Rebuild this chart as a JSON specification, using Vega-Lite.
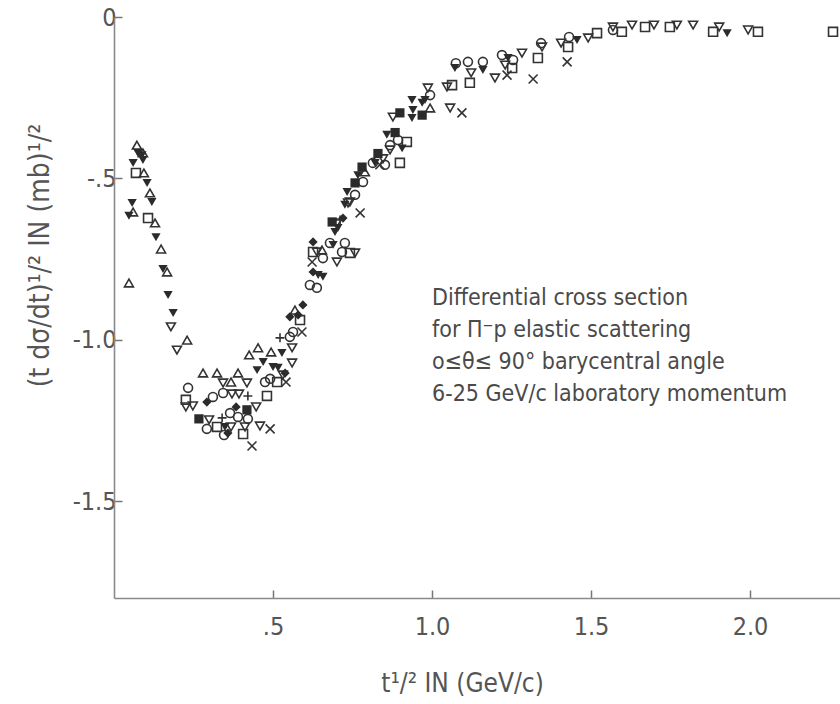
{
  "$schema": "https://vega.github.io/schema/vega-lite/v6.json",
  "autosize": "none",
  "width": 726,
  "height": 581,
  "padding": {"left": 114, "top": 17, "right": 0, "bottom": 106},
  "background": "white",
  "config": {
    "view": {"stroke": null},
    "axis": {
      "grid": false,
      "domainColor": "#8a8a8a",
      "domainWidth": 1.6,
      "tickColor": "#777777",
      "tickWidth": 1.5,
      "tickSize": -8,
      "labelColor": "#555555",
      "labelFont": "DejaVu Sans Condensed, sans-serif",
      "labelFontSize": 25,
      "titleColor": "#555555",
      "titleFont": "DejaVu Sans Condensed, sans-serif",
      "titleFontSize": 26,
      "titleFontWeight": "normal"
    }
  },
  "datasets": {
    "pts": [
      {"x":0.072,"y":-0.397,"s":"tu"},{"x":0.075,"y":-0.421,"s":"ftd"},{"x":0.088,"y":-0.428,"s":"ftd"},{"x":0.060,"y":-0.452,"s":"ftd"},
      {"x":0.091,"y":-0.443,"s":"ftd"},{"x":0.091,"y":-0.421,"s":"tu"},{"x":0.069,"y":-0.483,"s":"sq"},{"x":0.094,"y":-0.483,"s":"tu"},
      {"x":0.104,"y":-0.514,"s":"ftd"},{"x":0.113,"y":-0.545,"s":"tu"},{"x":0.119,"y":-0.573,"s":"ftd"},{"x":0.057,"y":-0.576,"s":"ftd"},
      {"x":0.047,"y":-0.616,"s":"ftd"},{"x":0.060,"y":-0.604,"s":"tu"},{"x":0.107,"y":-0.623,"s":"sq"},{"x":0.129,"y":-0.638,"s":"tu"},
      {"x":0.132,"y":-0.682,"s":"ftd"},{"x":0.148,"y":-0.719,"s":"tu"},{"x":0.154,"y":-0.781,"s":"ftd"},{"x":0.167,"y":-0.790,"s":"tu"},
      {"x":0.047,"y":-0.824,"s":"tu"},{"x":0.170,"y":-0.861,"s":"ftd"},{"x":0.186,"y":-0.917,"s":"ftd"},{"x":0.179,"y":-0.960,"s":"td"},
      {"x":0.230,"y":-1.001,"s":"tu"},{"x":0.198,"y":-1.032,"s":"td"},
      {"x":0.280,"y":-1.103,"s":"tu"},{"x":0.324,"y":-1.103,"s":"tu"},{"x":0.390,"y":-1.103,"s":"tu"},{"x":0.425,"y":-1.047,"s":"tu"},
      {"x":0.453,"y":-1.025,"s":"tu"},{"x":0.494,"y":-1.038,"s":"tu"},{"x":0.469,"y":-1.069,"s":"ftd"},{"x":0.450,"y":-1.094,"s":"ftd"},
      {"x":0.500,"y":-1.084,"s":"ftd"},{"x":0.516,"y":-1.087,"s":"ftd"},{"x":0.528,"y":-1.041,"s":"ftd"},{"x":0.560,"y":-1.025,"s":"td"},
      {"x":0.560,"y":-1.072,"s":"td"},{"x":0.522,"y":-0.994,"s":"p"},{"x":0.553,"y":-0.991,"s":"c"},{"x":0.591,"y":-0.976,"s":"x"},
      {"x":0.343,"y":-1.134,"s":"td"},{"x":0.368,"y":-1.131,"s":"tu"},{"x":0.418,"y":-1.134,"s":"td"},{"x":0.233,"y":-1.149,"s":"c"},
      {"x":0.475,"y":-1.131,"s":"c"},{"x":0.491,"y":-1.121,"s":"c"},{"x":0.513,"y":-1.131,"s":"sq"},{"x":0.541,"y":-1.131,"s":"x"},
      {"x":0.531,"y":-1.109,"s":"td"},{"x":0.343,"y":-1.165,"s":"c"},{"x":0.371,"y":-1.168,"s":"td"},{"x":0.393,"y":-1.168,"s":"td"},
      {"x":0.421,"y":-1.174,"s":"p"},{"x":0.481,"y":-1.174,"s":"sq"},{"x":0.292,"y":-1.193,"s":"fd"},{"x":0.311,"y":-1.177,"s":"c"},
      {"x":0.226,"y":-1.186,"s":"sq"},{"x":0.226,"y":-1.208,"s":"td"},{"x":0.248,"y":-1.205,"s":"td"},{"x":0.384,"y":-1.208,"s":"fd"},
      {"x":0.418,"y":-1.217,"s":"fsq"},{"x":0.365,"y":-1.227,"s":"c"},{"x":0.447,"y":-1.208,"s":"td"},{"x":0.390,"y":-1.239,"s":"c"},
      {"x":0.421,"y":-1.245,"s":"c"},{"x":0.267,"y":-1.245,"s":"fsq"},{"x":0.299,"y":-1.248,"s":"td"},{"x":0.340,"y":-1.242,"s":"p"},
      {"x":0.292,"y":-1.276,"s":"c"},{"x":0.324,"y":-1.270,"s":"sq"},{"x":0.349,"y":-1.270,"s":"ftd"},{"x":0.368,"y":-1.270,"s":"td"},
      {"x":0.412,"y":-1.270,"s":"td"},{"x":0.459,"y":-1.267,"s":"td"},{"x":0.491,"y":-1.276,"s":"x"},{"x":0.346,"y":-1.295,"s":"c"},
      {"x":0.358,"y":-1.289,"s":"fd"},{"x":0.406,"y":-1.292,"s":"sq"},{"x":0.434,"y":-1.329,"s":"x"},
      {"x":0.726,"y":-0.582,"s":"ftd"},{"x":0.736,"y":-0.576,"s":"td"},{"x":0.774,"y":-0.607,"s":"x"},{"x":0.686,"y":-0.635,"s":"fsq"},
      {"x":0.701,"y":-0.638,"s":"td"},{"x":0.711,"y":-0.629,"s":"p"},{"x":0.695,"y":-0.666,"s":"ftd"},{"x":0.704,"y":-0.654,"s":"ftd"},
      {"x":0.626,"y":-0.697,"s":"fd"},{"x":0.679,"y":-0.700,"s":"c"},{"x":0.726,"y":-0.700,"s":"c"},{"x":0.689,"y":-0.706,"s":"ftd"},
      {"x":0.638,"y":-0.728,"s":"td"},{"x":0.654,"y":-0.722,"s":"tu"},{"x":0.626,"y":-0.728,"s":"sq"},{"x":0.657,"y":-0.747,"s":"c"},
      {"x":0.701,"y":-0.759,"s":"td"},{"x":0.742,"y":-0.731,"s":"sq"},{"x":0.758,"y":-0.731,"s":"td"},{"x":0.717,"y":-0.728,"s":"c"},
      {"x":0.623,"y":-0.759,"s":"x"},{"x":0.626,"y":-0.790,"s":"fd"},{"x":0.657,"y":-0.805,"s":"ftd"},{"x":0.642,"y":-0.799,"s":"ftd"},
      {"x":0.616,"y":-0.830,"s":"c"},{"x":0.638,"y":-0.839,"s":"c"},{"x":0.594,"y":-0.892,"s":"fd"},{"x":0.569,"y":-0.908,"s":"tu"},
      {"x":0.553,"y":-0.929,"s":"fd"},{"x":0.579,"y":-0.923,"s":"fd"},{"x":0.585,"y":-0.939,"s":"sq"},{"x":0.563,"y":-0.976,"s":"c"},
      {"x":0.538,"y":-1.103,"s":"fd"},
      {"x":0.720,"y":-0.623,"s":"fd"},{"x":0.742,"y":-0.573,"s":"td"},{"x":0.758,"y":-0.551,"s":"c"},{"x":0.733,"y":-0.542,"s":"ftd"},
      {"x":0.783,"y":-0.511,"s":"c"},{"x":0.758,"y":-0.514,"s":"fsq"},{"x":0.789,"y":-0.480,"s":"tu"},{"x":0.767,"y":-0.490,"s":"ftd"},
      {"x":0.780,"y":-0.465,"s":"fsq"},{"x":0.899,"y":-0.452,"s":"sq"},{"x":0.852,"y":-0.458,"s":"c"},{"x":0.836,"y":-0.458,"s":"x"},
      {"x":0.814,"y":-0.452,"s":"c"},{"x":0.868,"y":-0.412,"s":"td"},{"x":0.846,"y":-0.439,"s":"td"},{"x":0.821,"y":-0.452,"s":"ftd"},
      {"x":0.830,"y":-0.423,"s":"fsq"},{"x":0.906,"y":-0.407,"s":"ftd"},{"x":0.868,"y":-0.397,"s":"c"},{"x":0.921,"y":-0.387,"s":"sq"},
      {"x":0.893,"y":-0.381,"s":"c"},{"x":0.884,"y":-0.358,"s":"fsq"},{"x":0.858,"y":-0.365,"s":"ftd"},{"x":0.937,"y":-0.313,"s":"ftd"},
      {"x":0.899,"y":-0.297,"s":"fsq"},{"x":0.969,"y":-0.266,"s":"ftd"},
      {"x":0.877,"y":-0.310,"s":"td"},{"x":0.937,"y":-0.257,"s":"ftd"},{"x":0.940,"y":-0.288,"s":"ftd"},
      {"x":0.994,"y":-0.282,"s":"tu"},{"x":0.969,"y":-0.304,"s":"fsq"},{"x":0.994,"y":-0.242,"s":"c"},{"x":0.978,"y":-0.257,"s":"ftd"},
      {"x":0.987,"y":-0.220,"s":"td"},{"x":1.057,"y":-0.282,"s":"td"},{"x":1.094,"y":-0.297,"s":"x"},{"x":1.047,"y":-0.217,"s":"td"},
      {"x":1.063,"y":-0.211,"s":"sq"},{"x":1.075,"y":-0.143,"s":"c"},{"x":1.072,"y":-0.158,"s":"ftd"},{"x":1.113,"y":-0.139,"s":"c"},
      {"x":1.123,"y":-0.173,"s":"td"},{"x":1.119,"y":-0.204,"s":"sq"},{"x":1.160,"y":-0.139,"s":"c"},{"x":1.160,"y":-0.164,"s":"ftd"},
      {"x":1.198,"y":-0.189,"s":"td"},{"x":1.236,"y":-0.180,"s":"x"},{"x":1.220,"y":-0.118,"s":"c"},{"x":1.239,"y":-0.127,"s":"ftd"},
      {"x":1.252,"y":-0.158,"s":"sq"},{"x":1.255,"y":-0.133,"s":"c"},{"x":1.230,"y":-0.149,"s":"td"},{"x":1.283,"y":-0.112,"s":"td"},
      {"x":1.333,"y":-0.127,"s":"sq"},{"x":1.318,"y":-0.192,"s":"x"},{"x":1.343,"y":-0.081,"s":"c"},{"x":1.346,"y":-0.093,"s":"td"},
      {"x":1.425,"y":-0.139,"s":"x"},{"x":1.406,"y":-0.081,"s":"td"},{"x":1.428,"y":-0.093,"s":"sq"},{"x":1.431,"y":-0.062,"s":"c"},
      {"x":1.456,"y":-0.071,"s":"ftd"},{"x":1.491,"y":-0.065,"s":"td"},{"x":1.519,"y":-0.050,"s":"sq"},{"x":1.569,"y":-0.031,"s":"td"},
      {"x":1.569,"y":-0.040,"s":"c"},{"x":1.597,"y":-0.046,"s":"sq"},{"x":1.629,"y":-0.025,"s":"td"},{"x":1.670,"y":-0.031,"s":"sq"},
      {"x":1.698,"y":-0.025,"s":"td"},{"x":1.748,"y":-0.031,"s":"sq"},{"x":1.770,"y":-0.025,"s":"td"},{"x":1.821,"y":-0.025,"s":"td"},
      {"x":1.884,"y":-0.046,"s":"sq"},{"x":1.903,"y":-0.031,"s":"td"},{"x":1.928,"y":-0.050,"s":"ftd"},{"x":1.994,"y":-0.040,"s":"td"},
      {"x":2.025,"y":-0.046,"s":"sq"},{"x":2.261,"y":-0.046,"s":"sq"}
    ]
  },
  "layer": [
    {
      "data": {"name": "pts"},
      "transform": [{"filter": {"field": "s", "oneOf": ["tu", "td", "sq", "c", "x", "p"]}}],
      "mark": {"type": "point", "filled": false, "strokeWidth": 1.6, "color": "#333333", "opacity": 1, "size": 80},
      "encoding": {
        "x": {"field": "x", "type": "quantitative", "scale": {"domain": [0, 2.283], "nice": false, "zero": false},
          "axis": {"values": [0.5, 1, 1.5, 2], "labelExpr": "datum.value == 0.5 ? '.5' : format(datum.value, '.1f')", "labelPadding": 24,
            "title": "t¹/² IN (GeV/c)", "titleAnchor": "start", "titleAlign": "center", "titleX": 348, "titleY": 93, "titleBaseline": "alphabetic"}},
        "y": {"field": "y", "type": "quantitative", "scale": {"domain": [-1.8, 0], "nice": false, "zero": false},
          "axis": {"values": [0, -0.5, -1, -1.5], "labelExpr": "datum.value == 0 ? '0' : datum.value == -0.5 ? '-.5' : datum.value == -1 ? '-1.0' : '-1.5'", "labelPadding": 6,
            "title": "(t dσ/dt)¹/² IN (mb)¹/²", "titleFontSize": 28, "titleAngle": -90, "titleAlign": "center", "titleBaseline": "middle", "titleX": -74, "titleY": 238}},
        "shape": {"field": "s", "type": "nominal", "legend": null,
          "scale": {"domain": ["tu", "td", "ftd", "sq", "fsq", "c", "fd", "x", "p"],
            "range": ["triangle-up", "triangle-down", "triangle-down", "square", "square", "circle", "diamond", "M-1,-1L1,1M-1,1L1,-1", "M-1,0L1,0M0,-1L0,1"]}}
      }
    },
    {
      "data": {"name": "pts"},
      "transform": [{"filter": {"field": "s", "oneOf": ["ftd", "fsq", "fd"]}}],
      "mark": {"type": "point", "filled": true, "color": "#2b2b2b", "opacity": 1, "size": 85},
      "encoding": {
        "x": {"field": "x", "type": "quantitative"},
        "y": {"field": "y", "type": "quantitative"},
        "shape": {"field": "s", "type": "nominal", "legend": null}
      }
    },
    {
      "data": {"values": [{"note": "annotation"}]},
      "mark": {"type": "text", "align": "left", "baseline": "top", "font": "DejaVu Sans Condensed, sans-serif",
        "fontSize": 23, "lineHeight": 32, "color": "#4a4a4a",
        "text": ["Differential cross section", "for Π⁻p elastic scattering", "o≤θ≤ 90° barycentral angle", "6-25 GeV/c laboratory momentum"]},
      "encoding": {
        "x": {"datum": 1.0, "type": "quantitative"},
        "y": {"datum": -0.835, "type": "quantitative"}
      }
    }
  ]
}
